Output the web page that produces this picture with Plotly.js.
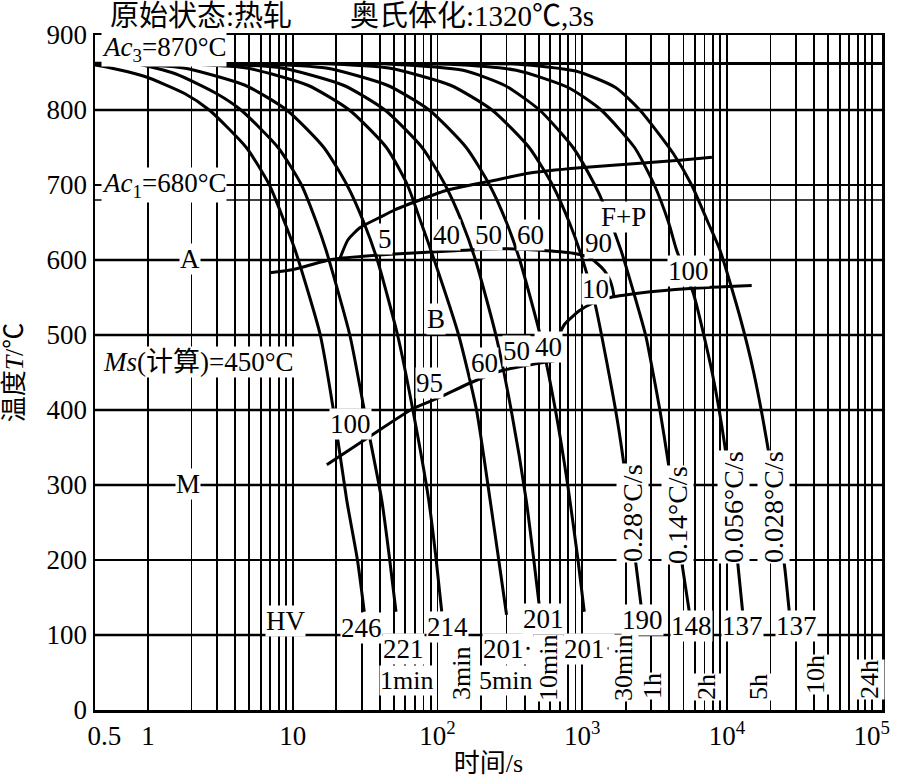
<!DOCTYPE html>
<html><head><meta charset="utf-8">
<script src="https://cdn.plot.ly/plotly-3.0.1.min.js"></script>
<style>html,body{margin:0;padding:0;background:#fff}#chart{width:897px;height:778px}</style>
</head><body><div id="chart"></div>
<script>
// ---- cooling curves (time s, temperature °C) ----
const c1_t = [0.15, 0.43, 0.94, 1.79, 2.65, 4.78, 6.9, 8.8, 10.4, 15.5, 19.1, 23.6, 28.0, 31.2];
const c1_T = [862, 860, 845, 822, 800, 750, 700, 650, 613, 500, 400, 280, 200, 131];
const c2_t = [0.3, 0.85, 1.56, 2.97, 4.39, 7.92, 11.5, 14.6, 17.0, 24.8, 31.2, 41.2, 46.8, 51.7];
const c2_T = [862, 861, 848, 822, 800, 750, 700, 650, 613, 500, 400, 280, 200, 131];
const c3_t = [0.6, 1.76, 4.68, 9.08, 16.4, 23.7, 31.0, 38.4, 53.0, 67.6, 87.0, 98.0, 107];
const c3_T = [862, 856, 833, 800, 750, 700, 650, 600, 500, 400, 280, 200, 131];
const c4_t = [1.5, 4.8, 12.7, 24.6, 44.4, 62, 77, 95, 140, 186, 231, 265, 300];
const c4_T = [862, 856, 833, 800, 750, 700, 650, 600, 500, 400, 280, 200, 127];
const c5_t = [2.5, 8.4, 22.4, 43.3, 78.3, 113, 148, 183, 253, 323, 410, 463, 511];
const c5_T = [862, 856, 833, 800, 750, 700, 650, 600, 500, 400, 280, 200, 131];
const c6_t = [5, 17, 45, 87.6, 158, 229, 300, 370, 512, 653, 794, 935, 1033];
const c6_T = [862, 856, 833, 800, 750, 700, 650, 600, 500, 400, 300, 200, 131];
const c7_t = [15, 46, 123, 238, 430, 623, 815, 958, 1225, 1700, 1923, 2330, 2547];
const c7_T = [862, 856, 833, 800, 750, 700, 650, 613, 542, 400, 333, 200, 140];
const c8_t = [40, 150, 290, 507, 864, 1221, 1396, 1852, 2740, 2939, 3440, 3936, 4470, 4943, 5492];
const c8_T = [862, 853, 833, 800, 750, 700, 676, 613, 500, 471, 400, 329, 250, 189, 131];
const c9_t = [40, 120, 350, 800, 1350, 2300, 3150, 3950, 4489, 5849, 7900, 9684, 11150, 11970, 12830];
const c9_T = [862, 861, 853, 830, 800, 750, 700, 650, 613, 556, 450, 351, 250, 189, 131];
const c10_t = [150, 360, 900, 1700, 2500, 4257, 5700, 7400, 8950, 12300, 15300, 19280, 22900, 25170, 26940];
const c10_T = [862, 861, 852, 830, 800, 742, 700, 650, 613, 524, 450, 347, 250, 187, 131];

// ---- transformation lines ----
const fStart_t = [21.0, 24.1, 29.1, 40.1, 50.9, 75.6, 116, 231, 435, 965, 2506, 4730, 7870];
const fStart_T = [600, 627, 643, 657, 667, 680, 693, 705, 716, 723, 729, 733, 737];
const bStart_t = [6.96, 9.88, 18.97, 50.9, 122, 270, 511, 867, 1100, 1259, 1420, 1556, 1620, 1658];
const bStart_T = [583, 587, 601, 608, 612, 615, 613, 609, 604, 596, 586, 573, 562, 551];
const bEnd_t = [690, 760, 965, 1200, 1476, 2506, 5550, 14820];
const bEnd_T = [500, 515, 533, 543, 549, 556, 562, 566];
const ms_t = [17.2, 34.2, 68, 104, 168, 285, 568, 702];
const ms_T = [327, 365, 402, 417, 436, 453, 464, 467];

// critical temperatures drawn as lines (as placed in the picture)
const acLineT = [862, 680];
const acLabels = ['<i>Ac</i><sub>3</sub>=870°C', '<i>Ac</i><sub>1</sub>=680°C'];
const msLabel = '<i>Ms</i>(计算)=450°C';

// texts
const hardness = ['246', '221', '214', '201·', '201', '201·', '190', '148', '137', '137'];
const rateLabels = ['0.28°C/s', '0.14°C/s', '0.056°C/s', '0.028°C/s'];
const bLabels = ['5', '40', '50', '60', '90'];
const msPctLabels = ['100', '95', '60', '50', '40'];
const timeMarks = ['1min', '3min', '5min', '10min', '30min', '1h', '2h', '5h', '10h', '24h'];
const phaseLabels = ['A', 'M', 'F+P', 'B', '10', '100', 'HV'];

// axes
const xTickVals = [0.5, 1, 10, 100, 1000, 10000, 100000];
const xTickText = ['0.5', '1', '10', '10<sup>2</sup>', '10<sup>3</sup>', '10<sup>4</sup>', '10<sup>5</sup>'];
const yTickVals = [0, 100, 200, 300, 400, 500, 600, 700, 800, 900];
const thickGridT = [100, 300, 400, 500, 600, 800];

// ---------------- drawing ----------------
const FONT = "'Liberation Serif', 'Times New Roman', 'Noto Sans CJK SC', serif";
const curves = [[c1_t,c1_T],[c2_t,c2_T],[c3_t,c3_T],[c4_t,c4_T],[c5_t,c5_T],[c6_t,c6_T],
                [c7_t,c7_T],[c8_t,c8_T],[c9_t,c9_T],[c10_t,c10_T]];
const lines = [[fStart_t,fStart_T],[bStart_t,bStart_T],[bEnd_t,bEnd_T],[ms_t,ms_T]];
const traces = [];
curves.concat(lines).forEach(([t,T]) => traces.push({
  x: t, y: T, type: 'scatter', mode: 'lines', hoverinfo: 'skip',
  line: {color: 'black', width: 3, shape: 'spline', smoothing: 0.6}
}));

const minorX = [];
for (let k = 0; k <= 4; k++) for (let d = 1; d <= 9; d++) minorX.push(d * Math.pow(10, k));
minorX.push(100000);

// plot frame in pixels, used to place text labels
const X0 = 95, PW = 787, Y0 = 710, PH = 675;
function ann(text, xp, yp, o) {
  return Object.assign({text: text, xref: 'paper', yref: 'paper', x: (xp - X0) / PW, y: (Y0 - yp) / PH,
    xanchor: 'center', yanchor: 'middle', showarrow: false, bgcolor: 'white', borderpad: 0,
    font: {family: FONT, size: 27, color: 'black'}}, o || {});
}
const annotations = [];
annotations.push(ann(acLabels[0], 164, 49, {font: {family: FONT, size: 27}}));
annotations.push(ann(acLabels[1], 164, 185, {font: {family: FONT, size: 27}}));
annotations.push(ann(msLabel, 198, 362, {font: {family: FONT, size: 27}}));
const phasePos = [[190,259],[188,484],[623,217],[436,319],[595,289],[688,271],[285,621]];
phaseLabels.forEach((s,i) => annotations.push(ann(s, phasePos[i][0], phasePos[i][1])));
const bPos = [[385,239],[446,235],[488,235],[530,235],[598,243]];
bLabels.forEach((s,i) => annotations.push(ann(s, bPos[i][0], bPos[i][1])));
const msPos = [[350,424],[429,383],[484,363],[516,351],[548,347]];
msPctLabels.forEach((s,i) => annotations.push(ann(s, msPos[i][0], msPos[i][1])));
const hvPos = [[361,628],[403,649],[447,627],[508,649],[543,619],[589,649],[642,620],[691,626],[742,626],[796,626]];
hardness.forEach((s,i) => annotations.push(ann(s, hvPos[i][0], hvPos[i][1])));
const ratePos = [[632,513],[677,515],[733,507],[773,507]];
rateLabels.forEach((s,i) => annotations.push(ann(s, ratePos[i][0], ratePos[i][1], {textangle: -90, font: {family: FONT, size: 28}})));
const timePos = [[406,680,0],[461,674,-90],[505,680,0],[548,668,-90],[623,668,-90],[652,686,-90],[706,687,-90],[758,687,-90],[815,675,-90],[869,680,-90]];
timeMarks.forEach((s,i) => annotations.push(ann(s, timePos[i][0], timePos[i][1], {textangle: timePos[i][2], font: {family: FONT, size: 26}})));

const shapes = [];
thickGridT.forEach(v => shapes.push({type: 'line', xref: 'paper', yref: 'y', x0: 0, x1: 1, y0: v, y1: v, layer: 'below', line: {color: 'black', width: 2.5}}));
shapes.push({type: 'line', xref: 'paper', yref: 'y', x0: 0, x1: 1, y0: acLineT[0], y1: acLineT[0], layer: 'below', line: {color: 'black', width: 3}});
shapes.push({type: 'line', xref: 'paper', yref: 'y', x0: 0, x1: 1, y0: acLineT[1], y1: acLineT[1], layer: 'below', line: {color: 'black', width: 1.6}});

const layout = {
  width: 897, height: 778,
  margin: {l: 95, r: 15, t: 35, b: 68, pad: 0},
  paper_bgcolor: 'white', plot_bgcolor: 'white',
  font: {family: FONT, size: 27, color: 'black'},
  showlegend: false,
  title: {text: '原始状态:热轧　　奥氏体化:1320℃,3s', xref: 'container', yref: 'container',
          x: 110 / 897, xanchor: 'left', y: 1 - 16 / 778, yanchor: 'middle', font: {family: FONT, size: 29}},
  xaxis: {type: 'log', range: [-0.366, 5.071], tickvals: xTickVals, ticktext: xTickText,
          showgrid: false, ticks: '', showline: true, linewidth: 2.5, linecolor: 'black', mirror: true,
          zeroline: false, automargin: false, tickfont: {family: FONT, size: 27},
          minor: {tickvals: minorX, showgrid: true, gridcolor: 'black', gridwidth: 1.8, ticks: ''},
          title: {text: '时间/s', font: {family: FONT, size: 26}, standoff: 2}},
  yaxis: {range: [0, 900], tickvals: yTickVals, showgrid: true, gridcolor: 'black', gridwidth: 1.5,
          ticks: '', showline: true, linewidth: 2.5, linecolor: 'black', mirror: true, zeroline: false,
          automargin: false, tickfont: {family: FONT, size: 27},
          title: {text: '温度<i>T</i>/℃', font: {family: FONT, size: 26}, standoff: 18}},
  shapes: shapes,
  annotations: annotations
};
Plotly.newPlot('chart', traces, layout, {staticPlot: true, displayModeBar: false});
</script></body></html>
